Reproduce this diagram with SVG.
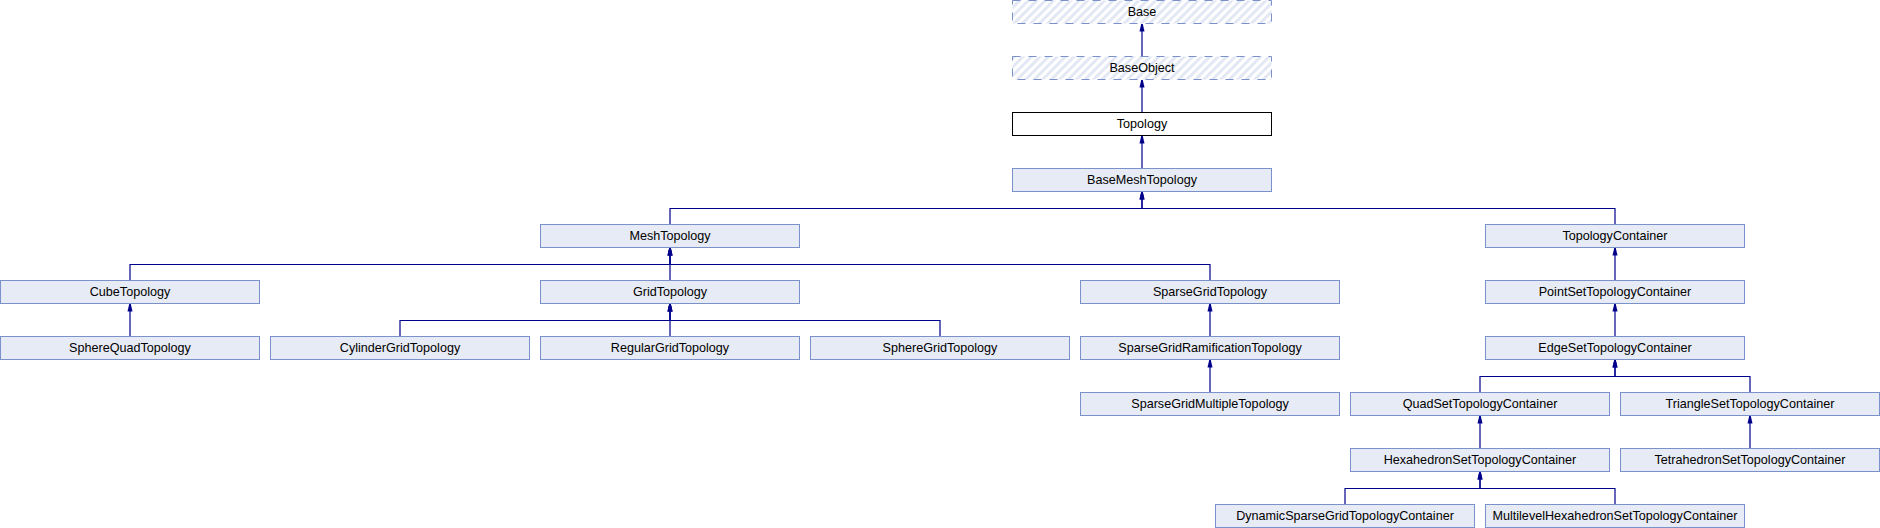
<svg xmlns="http://www.w3.org/2000/svg" width="1880" height="528" viewBox="0 0 1880 528">
<style>
.n rect{fill:#e7ebf5;stroke:#7b91c9;stroke-width:1}
.n.hat rect{fill:url(#hatch);stroke:#7b91c9;stroke-dasharray:8,8}
.n.cur rect{fill:#ffffff;stroke:#000000}
.n text{font-family:"Liberation Sans",Arial,sans-serif;font-size:12.6px;fill:#000;text-anchor:middle}
#edges path{fill:none;stroke:#00008b;stroke-width:1.2;marker-end:url(#arr)}
</style>
<defs>
<pattern id="hatch" patternUnits="userSpaceOnUse" width="6" height="6" patternTransform="rotate(45)">
<rect x="0" y="0" width="6" height="6" fill="#ffffff"/>
<rect x="0" y="0" width="3" height="6" fill="#e3e8f4"/>
</pattern>
<marker id="arr" markerUnits="userSpaceOnUse" markerWidth="8" markerHeight="6" viewBox="0 0 8 6" refX="7.5" refY="3" orient="auto">
<path d="M0,0.5 L7.5,2.2 L7.5,3.8 L0,5.5 z" fill="#00008b"/>
</marker>
</defs>
<g id="edges">
<path d="M1142,56.5 V24"/>
<path d="M1142,112.5 V80"/>
<path d="M1142,168.5 V136"/>
<path d="M670,224.5 V208.5 H1142 V192"/>
<path d="M1615,224.5 V208.5 H1142 V192"/>
<path d="M130,280.5 V264.5 H670 V248"/>
<path d="M670,280.5 V248"/>
<path d="M1210,280.5 V264.5 H670 V248"/>
<path d="M1615,280.5 V248"/>
<path d="M130,336.5 V304"/>
<path d="M400,336.5 V320.5 H670 V304"/>
<path d="M670,336.5 V304"/>
<path d="M940,336.5 V320.5 H670 V304"/>
<path d="M1210,336.5 V304"/>
<path d="M1615,336.5 V304"/>
<path d="M1210,392.5 V360"/>
<path d="M1480,392.5 V376.5 H1615 V360"/>
<path d="M1750,392.5 V376.5 H1615 V360"/>
<path d="M1480,448.5 V416"/>
<path d="M1750,448.5 V416"/>
<path d="M1345,504.5 V488.5 H1480 V472"/>
<path d="M1615,504.5 V488.5 H1480 V472"/>
</g>
<g id="Base" class="n hat"><rect x="1012.5" y="0.5" width="259" height="23"/><text x="1142" y="16">Base</text></g>
<g id="BaseObject" class="n hat"><rect x="1012.5" y="56.5" width="259" height="23"/><text x="1142" y="72">BaseObject</text></g>
<g id="Topology" class="n cur"><rect x="1012.5" y="112.5" width="259" height="23"/><text x="1142" y="128">Topology</text></g>
<g id="BaseMeshTopology" class="n"><rect x="1012.5" y="168.5" width="259" height="23"/><text x="1142" y="184">BaseMeshTopology</text></g>
<g id="MeshTopology" class="n"><rect x="540.5" y="224.5" width="259" height="23"/><text x="670" y="240">MeshTopology</text></g>
<g id="TopologyContainer" class="n"><rect x="1485.5" y="224.5" width="259" height="23"/><text x="1615" y="240">TopologyContainer</text></g>
<g id="CubeTopology" class="n"><rect x="0.5" y="280.5" width="259" height="23"/><text x="130" y="296">CubeTopology</text></g>
<g id="GridTopology" class="n"><rect x="540.5" y="280.5" width="259" height="23"/><text x="670" y="296">GridTopology</text></g>
<g id="SparseGridTopology" class="n"><rect x="1080.5" y="280.5" width="259" height="23"/><text x="1210" y="296">SparseGridTopology</text></g>
<g id="PointSetTopologyContainer" class="n"><rect x="1485.5" y="280.5" width="259" height="23"/><text x="1615" y="296">PointSetTopologyContainer</text></g>
<g id="SphereQuadTopology" class="n"><rect x="0.5" y="336.5" width="259" height="23"/><text x="130" y="352">SphereQuadTopology</text></g>
<g id="CylinderGridTopology" class="n"><rect x="270.5" y="336.5" width="259" height="23"/><text x="400" y="352">CylinderGridTopology</text></g>
<g id="RegularGridTopology" class="n"><rect x="540.5" y="336.5" width="259" height="23"/><text x="670" y="352">RegularGridTopology</text></g>
<g id="SphereGridTopology" class="n"><rect x="810.5" y="336.5" width="259" height="23"/><text x="940" y="352">SphereGridTopology</text></g>
<g id="SparseGridRamificationTopology" class="n"><rect x="1080.5" y="336.5" width="259" height="23"/><text x="1210" y="352">SparseGridRamificationTopology</text></g>
<g id="EdgeSetTopologyContainer" class="n"><rect x="1485.5" y="336.5" width="259" height="23"/><text x="1615" y="352">EdgeSetTopologyContainer</text></g>
<g id="SparseGridMultipleTopology" class="n"><rect x="1080.5" y="392.5" width="259" height="23"/><text x="1210" y="408">SparseGridMultipleTopology</text></g>
<g id="QuadSetTopologyContainer" class="n"><rect x="1350.5" y="392.5" width="259" height="23"/><text x="1480" y="408">QuadSetTopologyContainer</text></g>
<g id="TriangleSetTopologyContainer" class="n"><rect x="1620.5" y="392.5" width="259" height="23"/><text x="1750" y="408">TriangleSetTopologyContainer</text></g>
<g id="HexahedronSetTopologyContainer" class="n"><rect x="1350.5" y="448.5" width="259" height="23"/><text x="1480" y="464">HexahedronSetTopologyContainer</text></g>
<g id="TetrahedronSetTopologyContainer" class="n"><rect x="1620.5" y="448.5" width="259" height="23"/><text x="1750" y="464">TetrahedronSetTopologyContainer</text></g>
<g id="DynamicSparseGridTopologyContainer" class="n"><rect x="1215.5" y="504.5" width="259" height="23"/><text x="1345" y="520">DynamicSparseGridTopologyContainer</text></g>
<g id="MultilevelHexahedronSetTopologyContainer" class="n"><rect x="1485.5" y="504.5" width="259" height="23"/><text x="1615" y="520">MultilevelHexahedronSetTopologyContainer</text></g>
</svg>
